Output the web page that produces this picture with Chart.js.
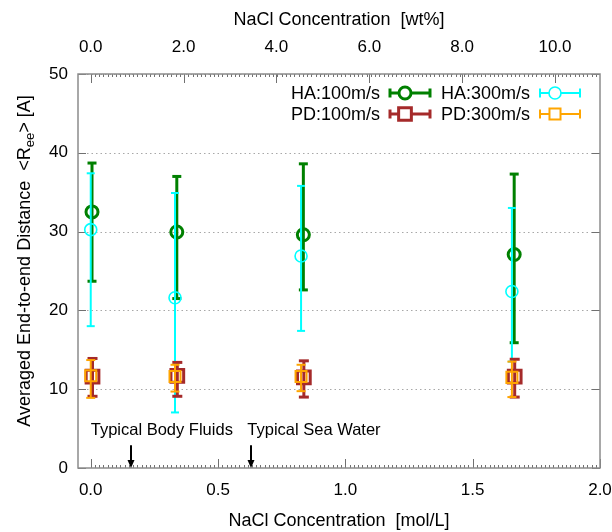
<!DOCTYPE html>
<html>
<head>
<meta charset="utf-8">
<script src="https://cdn.jsdelivr.net/npm/chart.js@4.4.0/dist/chart.umd.min.js"></script>
<style>
  html, body { margin: 0; padding: 0; background: #fff; }
  #wrap { width: 612px; height: 532px; }
</style>
</head>
<body>
<div id="wrap"><canvas id="chart"></canvas></div>
<script>
// NaCl concentration (mol/L) for each series
const xHA100 = [0.005, 0.338, 0.835, 1.663];
const xHA300 = [0.000, 0.331, 0.826, 1.654];
const xPD100 = [0.007, 0.340, 0.837, 1.665];
const xPD300 = [0.000, 0.331, 0.826, 1.654];

// mean <Ree> and error bar bounds
const yHA100 = [32.5, 29.95, 29.6, 27.1];
const loHA100 = [23.7, 21.5, 22.6, 15.9];
const hiHA100 = [38.7, 37.0, 38.6, 37.3];

const yHA300 = [30.25, 21.6, 26.9, 22.4];
const loHA300 = [18.0, 7.05, 17.4, 13.5];
const hiHA300 = [37.4, 34.9, 35.8, 33.0];

const yPD100 = [11.6, 11.7, 11.5, 11.6];
const loPD100 = [9.1, 9.1, 9.0, 9.0];
const hiPD100 = [13.9, 13.4, 13.6, 13.8];

const yPD300 = [11.7, 11.6, 11.6, 11.5];
const loPD300 = [8.9, 9.7, 9.75, 9.0];
const hiPD300 = [13.7, 13.1, 13.1, 13.5];

// axes
const molTicks = [0.0, 0.5, 1.0, 1.5, 2.0];
const wtTicks = [0, 2, 4, 6, 8, 10];
const yTicks = [0, 10, 20, 30, 40, 50];
const wtPerMol = 5.485; // top axis scale factor

// annotations
const markX = [0.16, 0.63];
const markLabels = ['Typical Body Fluids', 'Typical Sea Water'];
const markLabelX = [0.0, 0.615];

const FONT = "'Liberation Sans', Arial, sans-serif";

function pts(xs, ys) {
    return xs.map((v, i) => ({ x: v, y: ys[i] }));
}

function makeSet(label, xs, ys, lo, hi, color, style, radius, bw, barW, cap, order) {
    return {
        label: label,
        data: pts(xs, ys),
        errLow: lo,
        errHigh: hi,
        borderColor: color,
        backgroundColor: 'rgba(0,0,0,0)',
        pointStyle: style,
        pointRadius: radius,
        pointBorderWidth: bw,
        barWidth: barW,
        capHalf: cap,
        showLine: false,
        order: order
    };
}

const datasets = [
    makeSet('HA:100m/s', xHA100, yHA100, loHA100, hiHA100, '#008000', 'circle', 6, 3, 3, 4.5, 4),
    makeSet('HA:300m/s', xHA300, yHA300, loHA300, hiHA300, '#00ffff', 'circle', 6, 1.6, 2, 4, 3),
    makeSet('PD:100m/s', xPD100, yPD100, loPD100, hiPD100, '#a52a2a', 'rect', 9, 3, 3, 5, 2),
    makeSet('PD:300m/s', xPD300, yPD300, loPD300, hiPD300, '#ffa500', 'rect', 7.8, 2, 2, 4.5, 1)
];

function line(ctx, x1, y1, x2, y2) {
    ctx.beginPath();
    ctx.moveTo(x1, y1);
    ctx.lineTo(x2, y2);
    ctx.stroke();
}

// error bars drawn under each dataset's markers
const errorBars = {
    id: 'errorBars',
    beforeDatasetDraw(chart, args) {
        const ds = chart.data.datasets[args.index];
        const { ctx, scales: { x, y } } = chart;
        ctx.save();
        ctx.strokeStyle = ds.borderColor;
        ctx.lineWidth = ds.barWidth;
        ds.data.forEach((p, i) => {
            const px = x.getPixelForValue(p.x);
            const lo = y.getPixelForValue(ds.errLow[i]);
            const hi = y.getPixelForValue(ds.errHigh[i]);
            line(ctx, px, lo, px, hi);
            line(ctx, px - ds.capHalf, lo, px + ds.capHalf, lo);
            line(ctx, px - ds.capHalf, hi, px + ds.capHalf, hi);
        });
        ctx.restore();
    }
};

// frame, grid, inward ticks, titles, annotations, legend
const decor = {
    id: 'decor',
    beforeDatasetsDraw(chart) {
        const { ctx, chartArea: a, scales: { x, y, x2 } } = chart;
        ctx.save();
        // dotted grid
        ctx.strokeStyle = '#a8a8a8';
        ctx.lineWidth = 1;
        ctx.setLineDash([1.5, 3]);
        yTicks.forEach(v => {
            if (v <= 0) return;
            const py = Math.round(y.getPixelForValue(v)) + 0.5;
            line(ctx, a.left, py, a.right, py);
        });
        ctx.setLineDash([]);

        // ticks
        ctx.strokeStyle = '#707070';
        ctx.lineWidth = 1;
        molTicks.forEach(v => {
            const px = Math.round(x.getPixelForValue(v)) + 0.5;
            line(ctx, px, a.bottom, px, a.bottom - 9);
        });
        wtTicks.forEach(v => {
            const px = Math.round(x2.getPixelForValue(v)) + 0.5;
            line(ctx, px, a.top, px, a.top + 9);
        });
        for (let v = 0; v <= 2.0001; v += 1 / 60) {
            const px = Math.round(x.getPixelForValue(v)) + 0.5;
            if (px < a.left + 2 || px > a.right - 2) continue;
            line(ctx, px, a.bottom, px, a.bottom - 3);
            line(ctx, px, a.top, px, a.top + 3);
        }
        yTicks.forEach(v => {
            const py = Math.round(y.getPixelForValue(v)) + 0.5;
            line(ctx, a.left, py, a.left + 8, py);
            line(ctx, a.right, py, a.right - 8, py);
        });

        // frame
        ctx.strokeStyle = '#8c8c8c';
        ctx.lineWidth = 1.5;
        ctx.strokeRect(a.left, a.top, a.right - a.left, a.bottom - a.top);

        // axis titles
        ctx.fillStyle = '#000';
        ctx.font = '18px ' + FONT;
        ctx.textAlign = 'center';
        ctx.textBaseline = 'middle';
        const cx = (a.left + a.right) / 2;
        ctx.fillText('NaCl Concentration  [mol/L]', cx, 521);
        ctx.fillText('NaCl Concentration  [wt%]', cx, 20);

        // y title with subscript
        ctx.save();
        ctx.translate(24, 261);
        ctx.rotate(-Math.PI / 2);
        const p1 = 'Averaged End-to-end Distance  <R';
        const p2 = 'ee';
        const p3 = '> [A]';
        ctx.font = '18px ' + FONT;
        const w1 = ctx.measureText(p1).width;
        const w3 = ctx.measureText(p3).width;
        ctx.font = '13px ' + FONT;
        const w2 = ctx.measureText(p2).width;
        let sx = -(w1 + w2 + w3) / 2;
        ctx.textAlign = 'left';
        ctx.textBaseline = 'alphabetic';
        ctx.font = '18px ' + FONT;
        ctx.fillText(p1, sx, 6);
        sx += w1;
        ctx.font = '13px ' + FONT;
        ctx.fillText(p2, sx, 10);
        sx += w2;
        ctx.font = '18px ' + FONT;
        ctx.fillText(p3, sx, 6);
        ctx.restore();

        // annotations with arrows
        ctx.font = '16.5px ' + FONT;
        ctx.textAlign = 'left';
        ctx.textBaseline = 'alphabetic';
        markLabels.forEach((t, i) => {
            ctx.fillText(t, x.getPixelForValue(markLabelX[i]), y.getPixelForValue(4.2));
        });
        ctx.strokeStyle = '#000';
        ctx.lineWidth = 2;
        markX.forEach(v => {
            const px = Math.round(x.getPixelForValue(v));
            const top = y.getPixelForValue(2.9);
            const bot = y.getPixelForValue(0);
            line(ctx, px, top, px, bot - 6);
            ctx.beginPath();
            ctx.moveTo(px - 3.5, bot - 8);
            ctx.lineTo(px + 3.5, bot - 8);
            ctx.lineTo(px, bot);
            ctx.closePath();
            ctx.fill();
        });

        // legend
        ctx.font = '18px ' + FONT;
        ctx.textAlign = 'right';
        ctx.textBaseline = 'middle';
        const cols = [380, 530];
        const rows = [93, 114];
        chart.data.datasets.forEach((ds, i) => {
            const col = cols[i % 2], row = rows[Math.floor(i / 2)];
            ctx.fillStyle = '#000';
            ctx.fillText(ds.label, col, row + 1);
            const s0 = col + 10, s1 = col + 50, mx = col + 25;
            ctx.strokeStyle = ds.borderColor;
            ctx.lineWidth = ds.barWidth;
            line(ctx, s0, row, s1, row);
            line(ctx, s0, row - 4.5, s0, row + 4.5);
            line(ctx, s1, row - 4.5, s1, row + 4.5);
            ctx.lineWidth = ds.pointBorderWidth;
            ctx.beginPath();
            if (ds.pointStyle === 'circle') {
                ctx.arc(mx, row, ds.pointRadius, 0, Math.PI * 2);
            } else {
                const h = ds.pointRadius * Math.SQRT1_2;
                ctx.rect(mx - h, row - h, 2 * h, 2 * h);
            }
            ctx.fillStyle = '#fff';
            ctx.fill();
            ctx.stroke();
        });
        ctx.restore();
    }
};

const tickFont = { family: FONT, size: 17 };

new Chart(document.getElementById('chart'), {
    type: 'scatter',
    data: { datasets: datasets },
    options: {
        responsive: true,
        maintainAspectRatio: false,
        animation: false,
        layout: { padding: { left: 0, right: 10, top: 0, bottom: 0 } },
        plugins: { legend: { display: false }, tooltip: { enabled: false } },
        scales: {
            x: {
                type: 'linear',
                position: 'bottom',
                min: -0.05,
                max: 2.0,
                grid: { display: false, drawTicks: false, tickLength: 0 },
                border: { display: false },
                afterBuildTicks: s => { s.ticks = molTicks.map(v => ({ value: v })); },
                afterFit: s => { s.height = 64; s.paddingLeft = 0; s.paddingRight = 0; },
                ticks: {
                    color: '#000', font: tickFont, padding: 12, maxRotation: 0,
                    callback: v => Number(v).toFixed(1)
                }
            },
            x2: {
                type: 'linear',
                position: 'top',
                min: -0.05 * wtPerMol,
                max: 2.0 * wtPerMol,
                grid: { display: false, drawTicks: false, tickLength: 0 },
                border: { display: false },
                afterBuildTicks: s => { s.ticks = wtTicks.map(v => ({ value: v })); },
                afterFit: s => { s.height = 74; s.paddingLeft = 0; s.paddingRight = 0; },
                ticks: {
                    color: '#000', font: tickFont, padding: 16, maxRotation: 0,
                    callback: v => Number(v).toFixed(1)
                }
            },
            y: {
                type: 'linear',
                min: 0,
                max: 50,
                grid: { display: false, drawTicks: false, tickLength: 0 },
                border: { display: false },
                afterBuildTicks: s => { s.ticks = yTicks.map(v => ({ value: v })); },
                afterFit: s => { s.width = 78; },
                ticks: { color: '#000', font: tickFont, padding: 10 }
            }
        }
    },
    plugins: [decor, errorBars]
});
</script>
</body>
</html>
